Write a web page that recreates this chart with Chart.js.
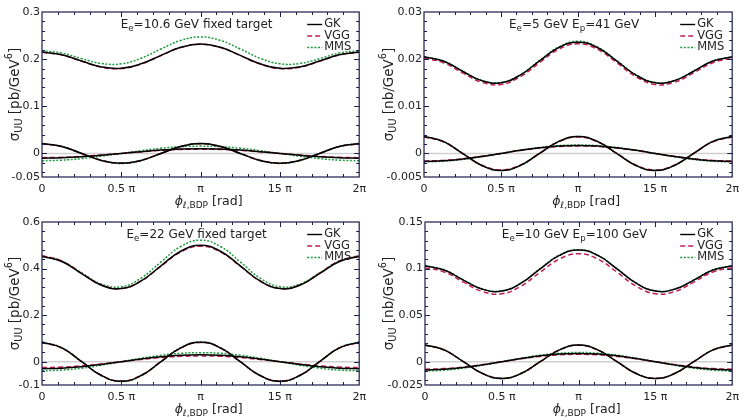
<!DOCTYPE html>
<html lang="en">
<head>
  <meta charset="UTF-8">
  <title>sigma_UU vs phi</title>
  <style>
    body {
      margin: 0;
      background: white;
      font-family: 'DejaVu Sans', sans-serif;
    }
    .panel {
      position: absolute;
    }
  </style>
  <script src="https://cdn.jsdelivr.net/npm/chart.js"></script>
</head>
<body>
  <div class="panel" style="left:0;top:0;width:372px;height:210px"><canvas id="c1"></canvas></div>
  <div class="panel" style="left:372px;top:0;width:373px;height:210px"><canvas id="c2"></canvas></div>
  <div class="panel" style="left:0;top:210px;width:372px;height:208px"><canvas id="c3"></canvas></div>
  <div class="panel" style="left:372px;top:210px;width:373px;height:208px"><canvas id="c4"></canvas></div>

  <script>
    // phi in units of pi
    const phiPi = [0, 0.125, 0.25, 0.375, 0.5, 0.625, 0.75, 0.875, 1, 1.125, 1.25, 1.375, 1.5, 1.625, 1.75, 1.875, 2];
    const xTicks = [0, 0.5, 1, 1.5, 2];
    const xLabels = ['0', '0.5 π', 'π', '15 π', '2π'];
    const models = ['GK', 'VGG', 'MMS'];

    // Ee=10.6 GeV fixed target [pb/GeV^6]
    const p1GK  = [.215, .2094, .1960, .1835, .1805, .1901, .2080, .2251, .232, .2251, .2080, .1901, .1805, .1835, .1960, .2094, .215];
    const p1VGG = [.2145, .2089, .1955, .1830, .1800, .1896, .2075, .2246, .2315, .2246, .2075, .1896, .1800, .1830, .1955, .2089, .2145];
    const p1MMS = [.218, .2129, .2011, .1908, .1901, .2019, .2216, .2397, .247, .2397, .2216, .2019, .1901, .1908, .2011, .2129, .218];
    const p1GKa  = [.021, .0148, 0, -.0148, -.021, -.0148, 0, .0148, .021, .0148, 0, -.0148, -.021, -.0148, 0, .0148, .021];
    const p1VGGa = [.0205, .0145, 0, -.0145, -.0205, -.0145, 0, .0145, .0205, .0145, 0, -.0145, -.0205, -.0145, 0, .0145, .0205];
    const p1MMSa = [.0212, .015, 0, -.015, -.0212, -.015, 0, .015, .0212, .015, 0, -.015, -.0212, -.015, 0, .015, .0212];
    const p1GKb  = [-.010, -.0092, -.0071, -.0038, 0, .0038, .0071, .0092, .010, .0092, .0071, .0038, 0, -.0038, -.0071, -.0092, -.010];
    const p1VGGb = [-.009, -.0083, -.0064, -.0034, 0, .0034, .0064, .0083, .009, .0083, .0064, .0034, 0, -.0034, -.0064, -.0083, -.009];
    const p1MMSb = [-.0155, -.0143, -.011, -.0059, 0, .0059, .011, .0143, .0155, .0143, .011, .0059, 0, -.0059, -.011, -.0143, -.0155];
    const yTicks1 = [-0.05, 0, 0.1, 0.2, 0.3];
    const yLabels1 = ['-0.05', '0', '0.1', '0.2', '0.3'];

    // Ee=5 GeV Ep=41 GeV [nb/GeV^6]
    const p2GK  = [.0205, .0196, .01743, .01544, .0150, .01662, .01963, .02246, .0236, .02246, .01963, .01662, .0150, .01544, .01743, .0196, .0205];
    const p2VGG = [.0202, .01925, .01708, .0151, .01462, .01627, .01926, .0221, .02325, .0221, .01926, .01627, .01462, .0151, .01708, .01925, .0202];
    const p2MMS = [.0205, .01962, .01747, .0155, .01506, .0167, .01972, .02258, .0238, .02258, .01972, .0167, .01506, .0155, .01747, .01962, .0205];
    const p2GKa  = [.0036, .00255, 0, -.00255, -.0036, -.00255, 0, .00255, .0036, .00255, 0, -.00255, -.0036, -.00255, 0, .00255, .0036];
    const p2VGGa = [.0035, .00247, 0, -.00247, -.0035, -.00247, 0, .00247, .0035, .00247, 0, -.00247, -.0035, -.00247, 0, .00247, .0035];
    const p2MMSa = [.0036, .00255, 0, -.00255, -.0036, -.00255, 0, .00255, .0036, .00255, 0, -.00255, -.0036, -.00255, 0, .00255, .0036];
    const p2GKb  = [-.0017, -.00157, -.0012, -.00065, 0, .00065, .0012, .00157, .0017, .00157, .0012, .00065, 0, -.00065, -.0012, -.00157, -.0017];
    const p2VGGb = [-.0016, -.00148, -.00113, -.00061, 0, .00061, .00113, .00148, .0016, .00148, .00113, .00061, 0, -.00061, -.00113, -.00148, -.0016];
    const p2MMSb = [-.0018, -.00166, -.00127, -.00069, 0, .00069, .00127, .00166, .0018, .00166, .00127, .00069, 0, -.00069, -.00127, -.00166, -.0018];
    const yTicks2 = [-0.005, 0, 0.01, 0.02, 0.03];
    const yLabels2 = ['-0.005', '0', '0.01', '0.02', '0.03'];

    // Ee=22 GeV fixed target [pb/GeV^6]
    const p3GK  = [.452, .4301, .378, .3285, .314, .3469, .412, .4745, .500, .4745, .412, .3469, .314, .3285, .378, .4301, .452];
    const p3VGG = [.455, .4325, .380, .3295, .3145, .3465, .410, .4715, .496, .4715, .410, .3465, .3145, .3295, .380, .4325, .455];
    const p3MMS = [.455, .4327, .3813, .3335, .322, .3591, .4287, .4947, .522, .4947, .4287, .3591, .322, .3335, .3813, .4327, .455];
    const p3GKa  = [.084, .0594, 0, -.0594, -.084, -.0594, 0, .0594, .084, .0594, 0, -.0594, -.084, -.0594, 0, .0594, .084];
    const p3VGGa = [.083, .0587, 0, -.0587, -.083, -.0587, 0, .0587, .083, .0587, 0, -.0587, -.083, -.0587, 0, .0587, .083];
    const p3MMSa = [.085, .0601, 0, -.0601, -.085, -.0601, 0, .0601, .085, .0601, 0, -.0601, -.085, -.0601, 0, .0601, .085];
    const p3GKb  = [-.03, -.0277, -.0212, -.0115, 0, .0115, .0212, .0277, .03, .0277, .0212, .0115, 0, -.0115, -.0212, -.0277, -.03];
    const p3VGGb = [-.025, -.0231, -.0177, -.0096, 0, .0096, .0177, .0231, .025, .0231, .0177, .0096, 0, -.0096, -.0177, -.0231, -.025];
    const p3MMSb = [-.039, -.036, -.0276, -.0149, 0, .0149, .0276, .036, .039, .036, .0276, .0149, 0, -.0149, -.0276, -.036, -.039];
    const yTicks3 = [-0.1, 0, 0.2, 0.4, 0.6];
    const yLabels3 = ['-0.1', '0', '0.2', '0.4', '0.6'];

    // Ee=10 GeV Ep=100 GeV [nb/GeV^6]
    const p4GK  = [.103, .0984, .0876, .0778, .0758, .0843, .0997, .1141, .120, .1141, .0997, .0843, .0758, .0778, .0876, .0984, .103];
    const p4VGG = [.101, .0964, .0855, .0753, .073, .0811, .0961, .1102, .116, .1102, .0961, .0811, .073, .0753, .0855, .0964, .101];
    const p4MMS = [.1032, .0986, .0878, .078, .076, .0845, .0999, .1144, .1203, .1144, .0999, .0845, .076, .078, .0878, .0986, .1032];
    const p4GKa  = [.018, .0127, 0, -.0127, -.018, -.0127, 0, .0127, .018, .0127, 0, -.0127, -.018, -.0127, 0, .0127, .018];
    const p4VGGa = [.0178, .0126, 0, -.0126, -.0178, -.0126, 0, .0126, .0178, .0126, 0, -.0126, -.0178, -.0126, 0, .0126, .0178];
    const p4MMSa = [.018, .0127, 0, -.0127, -.018, -.0127, 0, .0127, .018, .0127, 0, -.0127, -.018, -.0127, 0, .0127, .018];
    const p4GKb  = [-.0089, -.0082, -.0063, -.0034, 0, .0034, .0063, .0082, .0089, .0082, .0063, .0034, 0, -.0034, -.0063, -.0082, -.0089];
    const p4VGGb = [-.008, -.0074, -.0057, -.0031, 0, .0031, .0057, .0074, .008, .0074, .0057, .0031, 0, -.0031, -.0057, -.0074, -.008];
    const p4MMSb = [-.0099, -.0091, -.007, -.0038, 0, .0038, .007, .0091, .0099, .0091, .007, .0038, 0, -.0038, -.007, -.0091, -.0099];
    const yTicks4 = [-0.025, 0, 0.05, 0.1, 0.15];
    const yLabels4 = ['-0.025', '0', '0.05', '0.1', '0.15'];

    const FONT = '"DejaVu Sans", sans-serif';
    const TEXT = '#222';
    const FRAME = '#1c1c4e';
    const styles = {
      GK:  { color: '#000000', dash: [] },
      VGG: { color: '#c41d52', dash: [5, 3] },
      MMS: { color: '#1f9a3c', dash: [2, 1.6] }
    };

    const panels = [
      { id: 'c1', yWidth: 42, padRight: 10, yMin: -0.05, yMax: 0.3, yTicks: yTicks1, yLabels: yLabels1, yMinor: 0.02, unit: 'pb', titleX: 15,
        note: [{ t: 'E' }, { t: 'e', sub: true }, { t: '=10.6 GeV fixed target' }],
        series: { GK: [p1GK, p1GKa, p1GKb], VGG: [p1VGG, p1VGGa, p1VGGb], MMS: [p1MMS, p1MMSa, p1MMSb] } },
      { id: 'c2', yWidth: 52, padRight: 7, yMin: -0.005, yMax: 0.03, yTicks: yTicks2, yLabels: yLabels2, yMinor: 0.002, unit: 'nb', titleX: 17,
        note: [{ t: 'E' }, { t: 'e', sub: true }, { t: '=5 GeV E' }, { t: 'p', sub: true }, { t: '=41 GeV' }],
        series: { GK: [p2GK, p2GKa, p2GKb], VGG: [p2VGG, p2VGGa, p2VGGb], MMS: [p2MMS, p2MMSa, p2MMSb] } },
      { id: 'c3', yWidth: 42, padRight: 10, yMin: -0.1, yMax: 0.6, yTicks: yTicks3, yLabels: yLabels3, yMinor: 0.04, unit: 'pb', titleX: 15,
        note: [{ t: 'E' }, { t: 'e', sub: true }, { t: '=22 GeV fixed target' }],
        series: { GK: [p3GK, p3GKa, p3GKb], VGG: [p3VGG, p3VGGa, p3VGGb], MMS: [p3MMS, p3MMSa, p3MMSb] } },
      { id: 'c4', yWidth: 53, padRight: 7, yMin: -0.025, yMax: 0.15, yTicks: yTicks4, yLabels: yLabels4, yMinor: 0.01, unit: 'nb', titleX: 17,
        note: [{ t: 'E' }, { t: 'e', sub: true }, { t: '=10 GeV E' }, { t: 'p', sub: true }, { t: '=100 GeV' }],
        series: { GK: [p4GK, p4GKa, p4GKb], VGG: [p4VGG, p4VGGa, p4VGGb], MMS: [p4MMS, p4MMSa, p4MMSb] } }
    ];

    // text with sub/superscripts
    const drawRich = (ctx, parts, x, y, size, align) => {
      const fontFor = p => (p.italic ? 'italic ' : '') + ((p.sub || p.sup) ? size * 0.72 : size) + 'px ' + FONT;
      let total = 0;
      parts.forEach(p => { ctx.font = fontFor(p); p.w = ctx.measureText(p.t).width; total += p.w; });
      let cx = align === 'center' ? x - total / 2 : x;
      ctx.textAlign = 'left';
      ctx.textBaseline = 'middle';
      ctx.fillStyle = TEXT;
      parts.forEach(p => {
        ctx.font = fontFor(p);
        const dy = p.sub ? size * 0.32 : p.sup ? -size * 0.38 : 0;
        ctx.fillText(p.t, cx, y + dy);
        cx += p.w;
      });
    };

    const decorPlugin = {
      id: 'decor',
      beforeDatasetsDraw(chart) {
        const { ctx, chartArea: a, scales: { y } } = chart;
        const y0 = y.getPixelForValue(0);
        ctx.save();
        ctx.strokeStyle = '#cfcfcf';
        ctx.lineWidth = 1.5;
        ctx.beginPath();
        ctx.moveTo(a.left, y0);
        ctx.lineTo(a.right, y0);
        ctx.stroke();
        ctx.restore();
      },
      afterDraw(chart, args, opts) {
        const { ctx, chartArea: a, scales: { x, y } } = chart;
        const cfg = opts.cfg;
        ctx.save();
        // frame
        ctx.strokeStyle = FRAME;
        ctx.lineWidth = 1.2;
        ctx.strokeRect(a.left, a.top, a.right - a.left, a.bottom - a.top);
        // ticks on all sides, pointing inward
        ctx.lineWidth = 1;
        ctx.beginPath();
        for (let v = 0.1; v < 2 - 1e-6; v += 0.1) {
          const px = Math.round(x.getPixelForValue(v)) + 0.5;
          const major = Math.abs(v * 2 - Math.round(v * 2)) < 1e-6;
          const len = major ? 5 : 3;
          ctx.moveTo(px, a.bottom); ctx.lineTo(px, a.bottom - len);
          ctx.moveTo(px, a.top); ctx.lineTo(px, a.top + len);
        }
        const st = cfg.yMinor;
        for (let k = Math.ceil(cfg.yMin / st - 1e-6); k * st < cfg.yMax - 1e-9; k++) {
          const v = k * st;
          if (v <= cfg.yMin + 1e-9) continue;
          const py = Math.round(y.getPixelForValue(v)) + 0.5;
          ctx.moveTo(a.left, py); ctx.lineTo(a.left + 3, py);
          ctx.moveTo(a.right, py); ctx.lineTo(a.right - 3, py);
        }
        cfg.yTicks.forEach(v => {
          if (v <= cfg.yMin || v >= cfg.yMax) return;
          const py = Math.round(y.getPixelForValue(v)) + 0.5;
          ctx.moveTo(a.left, py); ctx.lineTo(a.left + 5, py);
          ctx.moveTo(a.right, py); ctx.lineTo(a.right - 5, py);
        });
        ctx.stroke();

        // axis titles
        drawRich(ctx, [{ t: 'ϕ', italic: true }, { t: 'ℓ,BDP', sub: true }, { t: ' [rad]' }],
          (a.left + a.right) / 2 + 8, a.bottom + 25, 12.5, 'center');
        ctx.save();
        ctx.translate(cfg.titleX, (a.top + a.bottom) / 2);
        ctx.rotate(-Math.PI / 2);
        drawRich(ctx, [{ t: 'σ' }, { t: 'UU', sub: true }, { t: ' [' + cfg.unit + '/GeV' }, { t: '6', sup: true }, { t: ']' }], 0, 0, 13.5, 'center');
        ctx.restore();

        // in-plot label
        drawRich(ctx, cfg.note, (a.left + a.right) / 2 - 4, a.top + 13, 12, 'center');

        // legend
        models.forEach((m, i) => {
          const ly = a.top + 12.5 + i * 11.5;
          ctx.strokeStyle = styles[m].color;
          ctx.lineWidth = 1.4;
          ctx.setLineDash(styles[m].dash);
          ctx.beginPath();
          ctx.moveTo(a.right - 52, ly);
          ctx.lineTo(a.right - 37, ly);
          ctx.stroke();
          ctx.setLineDash([]);
          drawRich(ctx, [{ t: m }], a.right - 35, ly, 11.5, 'left');
        });
        ctx.restore();
      }
    };

    panels.forEach(cfg => {
      const datasets = [];
      models.forEach(m => {
        cfg.series[m].forEach(arr => {
          datasets.push({
            label: m,
            data: phiPi.map((p, i) => ({ x: p, y: arr[i] })),
            borderColor: styles[m].color,
            borderDash: styles[m].dash,
            borderWidth: 1.5,
            pointRadius: 0,
            tension: 0.45,
            fill: false
          });
        });
      });

      new Chart(document.getElementById(cfg.id), {
        type: 'line',
        data: { datasets },
        plugins: [decorPlugin],
        options: {
          responsive: true,
          maintainAspectRatio: false,
          animation: false,
          layout: { padding: { top: 12, right: cfg.padRight, left: 0, bottom: 0 } },
          plugins: {
            legend: { display: false },
            tooltip: { enabled: false },
            decor: { cfg }
          },
          scales: {
            x: {
              type: 'linear',
              min: 0,
              max: 2,
              grid: { display: false, drawTicks: false },
              border: { display: false },
              afterBuildTicks: s => { s.ticks = xTicks.map(v => ({ value: v })); },
              afterFit: s => { s.height = 33; },
              ticks: {
                autoSkip: false,
                maxRotation: 0,
                padding: 6,
                color: TEXT,
                font: { family: 'DejaVu Sans', size: 11 },
                callback: (v, i) => xLabels[i]
              }
            },
            y: {
              min: cfg.yMin,
              max: cfg.yMax,
              grid: { display: false, drawTicks: false },
              border: { display: false },
              afterBuildTicks: s => { s.ticks = cfg.yTicks.map(v => ({ value: v })); },
              afterFit: s => { s.width = cfg.yWidth; },
              ticks: {
                autoSkip: false,
                padding: 2,
                color: TEXT,
                font: { family: 'DejaVu Sans', size: 11 },
                callback: (v, i) => cfg.yLabels[i]
              }
            }
          }
        }
      });
    });
  </script>
</body>
</html>
